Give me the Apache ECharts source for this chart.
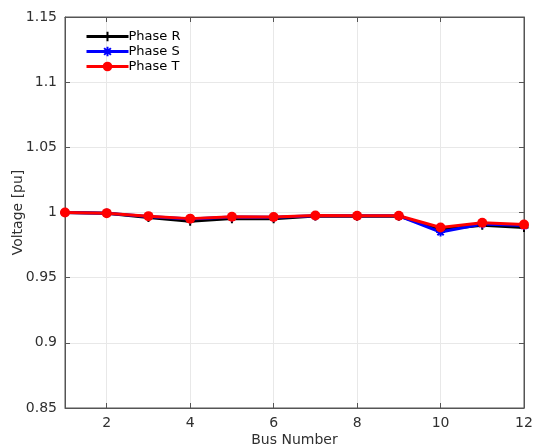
<!DOCTYPE html>
<html>
<head>
<meta charset="utf-8">
<script src="https://cdn.jsdelivr.net/npm/echarts@6/dist/echarts.min.js"></script>
<style>
  html, body { margin: 0; padding: 0; background: #fff; }
  #chart { width: 533px; height: 446px; }
</style>
</head>
<body>
<div id="chart"></div>
<script>
// Bus voltages per phase along the feeder
const busNumbers = [1, 2, 3, 4, 5, 6, 7, 8, 9, 10, 11, 12];
const phaseR = [1.000, 0.9995, 0.9962, 0.9932, 0.9953, 0.9952, 0.9973, 0.9972, 0.9972, 0.9870, 0.9902, 0.9885];
const phaseS = [1.000, 0.9995, 0.9970, 0.9950, 0.9965, 0.9963, 0.9976, 0.9975, 0.9975, 0.9850, 0.9912, 0.9900];
const phaseT = [1.000, 0.9995, 0.9972, 0.9953, 0.9967, 0.9965, 0.9977, 0.9975, 0.9975, 0.9885, 0.9922, 0.9907];
const xTicks = [2, 4, 6, 8, 10, 12];

const font = 'DejaVu Sans';
const textColor = '#303030';
const axisColor = '#555555';
const gridColor = '#e8e8e8';

const pair = (ys) => busNumbers.map((b, i) => [b, ys[i]]);

const plusPath = 'path://M0,5L10,5M5,0L5,10';
const starPath = 'path://M0,5L10,5M5,0L5,10M1.5,1.5L8.5,8.5M1.5,8.5L8.5,1.5';

const chart = echarts.init(document.getElementById('chart'), null, { renderer: 'canvas' });

const yLabelFmt = (v) => String(Math.round(v * 100) / 100);

chart.setOption({
  animation: false,
  backgroundColor: '#fff',
  textStyle: { fontFamily: font },
  grid: {
    left: 65, right: 9, top: 17, bottom: 38,
    outerBoundsMode: 'none', containLabel: false,
    show: true, borderColor: axisColor, borderWidth: 1, backgroundColor: '#fff'
  },
  legend: {
    left: 80, top: 25, orient: 'vertical',
    itemWidth: 42, itemHeight: 12, itemGap: 2,
    lineStyle: { width: 3 },
    textStyle: { fontFamily: font, fontSize: 13, color: '#000', padding: [0, 0, 0, -5] },
    data: ['Phase R', 'Phase S', 'Phase T']
  },
  xAxis: [{
    type: 'value', min: 1, max: 12,
    name: 'Bus Number', nameLocation: 'middle', nameGap: 25, nameMoveOverlap: false,
    nameTextStyle: { fontFamily: font, fontSize: 14, color: textColor },
    axisLine: { show: true, lineStyle: { color: axisColor, width: 1 } },
    axisTick: { show: true, inside: true, length: 5, customValues: xTicks, lineStyle: { color: axisColor } },
    axisLabel: { customValues: xTicks, fontFamily: font, fontSize: 14, color: textColor, margin: 8 },
    splitLine: { show: true, lineStyle: { color: gridColor, width: 1 } }
  }, {
    type: 'value', min: 1, max: 12, position: 'top',
    axisLine: { show: true, lineStyle: { color: axisColor } },
    axisTick: { show: true, inside: true, length: 5, customValues: xTicks, lineStyle: { color: axisColor } },
    axisLabel: { show: false, customValues: xTicks },
    splitLine: { show: false }
  }],
  yAxis: [{
    type: 'value', min: 0.85, max: 1.15, interval: 0.05,
    name: 'Voltage [pu]', nameLocation: 'middle', nameGap: 40, nameMoveOverlap: false,
    nameTextStyle: { fontFamily: font, fontSize: 14, color: textColor },
    axisLine: { show: true, lineStyle: { color: axisColor, width: 1 } },
    axisTick: { show: true, inside: true, length: 5, lineStyle: { color: axisColor } },
    axisLabel: { formatter: yLabelFmt, fontFamily: font, fontSize: 14, color: textColor, margin: 8 },
    splitLine: { show: true, lineStyle: { color: gridColor, width: 1 } }
  }, {
    type: 'value', min: 0.85, max: 1.15, interval: 0.05, position: 'right',
    axisLine: { show: true, lineStyle: { color: axisColor } },
    axisTick: { show: true, inside: true, length: 5, lineStyle: { color: axisColor } },
    axisLabel: { show: false },
    splitLine: { show: false }
  }],
  series: [{
    name: 'Phase R', type: 'line', data: pair(phaseR),
    lineStyle: { color: '#000', width: 3 },
    itemStyle: { color: '#000', borderColor: '#000', borderWidth: 2 },
    symbol: plusPath, symbolSize: 9, showAllSymbol: true
  }, {
    name: 'Phase S', type: 'line', data: pair(phaseS),
    lineStyle: { color: '#0000ff', width: 3 },
    itemStyle: { color: '#0000ff', borderColor: '#0000ff', borderWidth: 2 },
    symbol: starPath, symbolSize: 9, showAllSymbol: true
  }, {
    name: 'Phase T', type: 'line', data: pair(phaseT),
    lineStyle: { color: '#ff0000', width: 3 },
    itemStyle: { color: '#ff0000' },
    symbol: 'circle', symbolSize: 10, showAllSymbol: true
  }]
});
</script>
</body>
</html>
